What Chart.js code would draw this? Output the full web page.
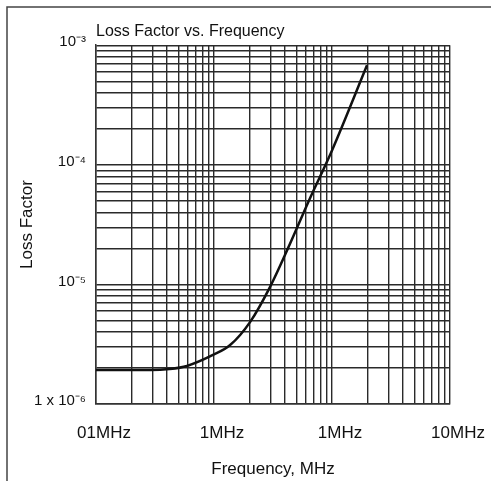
<!DOCTYPE html>
<html>
<head>
<meta charset="utf-8">
<script src="https://cdn.jsdelivr.net/npm/chart.js@4"></script>
<style>
  body { margin: 0; background: #fff; }
</style>
</head>
<body>
<canvas id="lossChart" width="491" height="481"></canvas>
<script>
// curve
const freqMHz = [0.01, 0.029, 0.042, 0.059, 0.098, 0.137, 0.202, 0.298, 0.424, 0.651, 1.0, 1.98];
const lossFactor = [1.92e-6, 1.92e-6, 1.96e-6, 2.08e-6, 2.57e-6, 3.11e-6, 4.84e-6, 9.5e-6, 2.01e-5, 5.26e-5, 1.32e-4, 6.8e-4];

// axis decades and their labels (as printed)
const xDecades = [0.01, 0.1, 1, 10];
const xTickLabels = ["01MHz", "1MHz", "1MHz", "10MHz"];
const yDecades = [1e-6, 1e-5, 1e-4, 1e-3];
const yTickLabels = ["1 x 10\u207B\u2076", "10\u207B\u2075", "10\u207B\u2074", "10\u207B\u00B3"];

// 1..9 x 10^n grid values for a log axis
function logGrid(decades) {
    let vals = [];
    for (let i = 0; i < decades.length - 1; i++) {
        for (let m = 1; m <= 9; m++) {
            vals.push(parseFloat((m * decades[i]).toPrecision(3)));
        }
    }
    vals.push(decades[decades.length - 1]);
    return vals;
}

function decadeLabel(value, decades, labels) {
    for (let i = 0; i < decades.length; i++) {
        if (Math.abs(value - decades[i]) < decades[i] * 1e-6) return labels[i];
    }
    return "";
}

const fontFamily = "'Liberation Sans', Arial, Helvetica, sans-serif";

// scanned page frame (left and top edge)
const framePlugin = {
    id: "frame",
    beforeDraw(chart) {
        const ctx = chart.ctx;
        ctx.save();
        ctx.strokeStyle = "#444";
        ctx.lineWidth = 1.5;
        ctx.beginPath();
        ctx.moveTo(7, 481);
        ctx.lineTo(7, 7);
        ctx.lineTo(491, 7);
        ctx.stroke();
        ctx.restore();
    },
};

let lossData = {
    labels: freqMHz,
    datasets: [{
        label: "Loss Factor",
        data: freqMHz.map((f, i) => ({ x: f, y: lossFactor[i] })),
        borderColor: "#111",
        borderWidth: 2.5,
        pointRadius: 0,
        fill: false,
        cubicInterpolationMode: "monotone",
    }, ],
};

let lossOptions = {
    responsive: false,
    animation: false,
    layout: {
        padding: { left: 8, right: 41, top: 10, bottom: 1 },
    },
    plugins: {
        legend: { display: false },
        tooltip: { enabled: false },
        title: {
            display: true,
            text: "Loss Factor vs. Frequency",
            align: "start",
            fullSize: false,
            color: "#111",
            font: { family: fontFamily, size: 16, weight: "normal" },
            padding: { top: 12, bottom: 4 },
        },
    },
    scales: {
        x: {
            type: "logarithmic",
            min: 0.01,
            max: 10,
            afterBuildTicks: (scale) => {
                scale.ticks = logGrid(xDecades).map(v => ({ value: v }));
            },
            afterFit: (scale) => {
                scale.height = 76;
                // labels may hang past the plot edges
                scale.paddingLeft = 0;
                scale.paddingRight = 0;
            },
            ticks: {
                autoSkip: false,
                maxRotation: 0,
                padding: 19,
                labelOffset: 8,
                color: "#111",
                font: { family: fontFamily, size: 17 },
                callback: (value) => decadeLabel(value, xDecades, xTickLabels),
            },
            grid: {
                color: "#2a2a2a",
                lineWidth: 1.4,
                drawTicks: false,
            },
            border: { color: "#333", width: 1.5 },
            title: {
                display: true,
                text: "Frequency, MHz",
                color: "#111",
                font: { family: fontFamily, size: 17 },
                padding: { top: 0, bottom: 0 },
            },
        },
        y: {
            type: "logarithmic",
            min: 1e-6,
            max: 1e-3,
            afterBuildTicks: (scale) => {
                scale.ticks = logGrid(yDecades).map(v => ({ value: v }));
            },
            afterFit: (scale) => {
                scale.width = 88;
            },
            ticks: {
                autoSkip: false,
                padding: 10,
                labelOffset: -3,
                color: "#111",
                font: { family: fontFamily, size: 15 },
                callback: (value) => decadeLabel(value, yDecades, yTickLabels),
            },
            grid: {
                color: "#2a2a2a",
                lineWidth: 1.4,
                drawTicks: false,
            },
            border: { color: "#333", width: 1.5 },
            title: {
                display: true,
                text: "Loss Factor",
                color: "#111",
                font: { family: fontFamily, size: 17 },
                padding: { top: 9, bottom: 0 },
            },
        },
    },
};

let lossChartCanvas = document.getElementById("lossChart").getContext("2d");
new Chart(lossChartCanvas, {
    type: "line",
    data: lossData,
    options: lossOptions,
    plugins: [framePlugin],
});
</script>
</body>
</html>
